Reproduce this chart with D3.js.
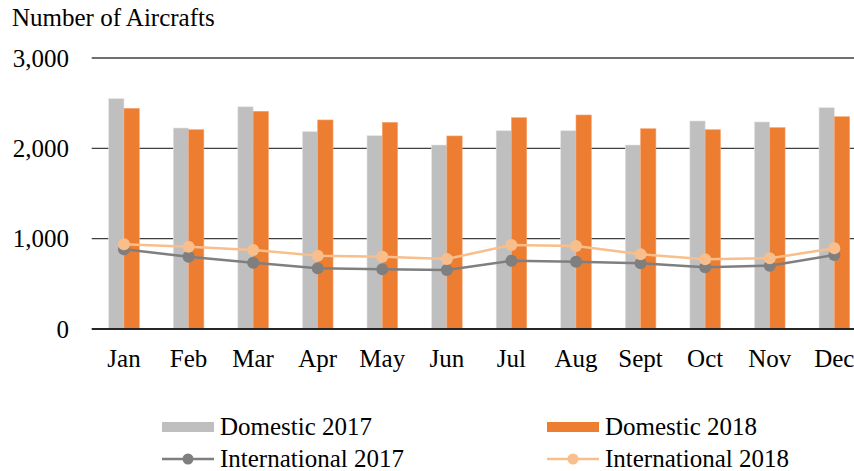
<!DOCTYPE html>
<meta charset="utf-8">
<html>
<head>
<style>
  body { margin: 0; background: #fff; }
  svg { display: block; font-family: "Liberation Serif", serif; }
</style>
</head>
<body>
<div id="chartContainer"></div>
<script src="https://cdn.jsdelivr.net/npm/d3@7"></script>
<script type="text/javascript">
  var months = ["Jan", "Feb", "Mar", "Apr", "May", "Jun", "Jul", "Aug", "Sept", "Oct", "Nov", "Dec"];
  var domestic2017 = [2550, 2225, 2460, 2185, 2140, 2037, 2195, 2195, 2037, 2303, 2292, 2450];
  var domestic2018 = [2443, 2206, 2410, 2314, 2288, 2137, 2339, 2369, 2217, 2206, 2229, 2350];
  var international2017 = [882, 800, 734, 672, 661, 653, 756, 745, 727, 683, 701, 819];
  var international2018 = [937, 911, 875, 812, 800, 775, 930, 919, 827, 772, 783, 893];
  var yTicks = [0, 1000, 2000, 3000];

  var width = 854, height = 471;
  var svg = d3.select("#chartContainer").append("svg")
    .attr("width", width)
    .attr("height", height);

  // plot area runs past the right edge, like the cropped original
  var x0 = d3.scaleBand()
    .domain(months)
    .range([91.7, 866.6])
    .paddingInner(0.526)
    .paddingOuter(0.263);
  var x1 = d3.scaleBand()
    .domain(["d17", "d18"])
    .range([0, x0.bandwidth()]);
  var y = d3.scaleLinear()
    .domain([0, 3000])
    .range([329, 58]);

  // title
  svg.append("text")
    .attr("x", 12)
    .attr("y", 26)
    .style("font-size", "25px")
    .style("fill", "#000")
    .text("Number of Aircrafts");

  // gridlines
  svg.selectAll(".grid")
    .data(yTicks.filter(function (d) { return d > 0; }))
    .enter()
    .append("line")
    .attr("x1", 91.7)
    .attr("x2", width)
    .attr("y1", function (d) { return y(d); })
    .attr("y2", function (d) { return y(d); })
    .style("stroke", "#404040")
    .style("stroke-width", 1.3);

  // y tick labels
  svg.selectAll(".ytick")
    .data(yTicks)
    .enter()
    .append("text")
    .attr("x", 69)
    .attr("y", function (d) { return y(d); })
    .attr("dy", "0.35em")
    .attr("text-anchor", "end")
    .style("font-size", "25px")
    .text(function (d) { return d3.format(",")(d); });

  // bars
  var groups = svg.selectAll(".month")
    .data(months)
    .enter()
    .append("g")
    .attr("transform", function (d) { return "translate(" + x0(d) + ",0)"; });

  groups.append("rect")
    .attr("x", x1("d17"))
    .attr("width", x1.bandwidth())
    .attr("y", function (d, i) { return y(domestic2017[i]); })
    .attr("height", function (d, i) { return y(0) - y(domestic2017[i]); })
    .style("fill", "#BFBFBF")
    .style("stroke", "#e4e4e4")
    .style("stroke-width", 0.6);

  groups.append("rect")
    .attr("x", x1("d18"))
    .attr("width", x1.bandwidth())
    .attr("y", function (d, i) { return y(domestic2018[i]); })
    .attr("height", function (d, i) { return y(0) - y(domestic2018[i]); })
    .style("fill", "#ED7D31")
    .style("stroke", "#f4a470")
    .style("stroke-width", 0.6);

  // baseline
  svg.append("line")
    .attr("x1", 91.7)
    .attr("x2", width)
    .attr("y1", y(0))
    .attr("y2", y(0))
    .style("stroke", "#262626")
    .style("stroke-width", 2);

  // x labels
  svg.selectAll(".xtick")
    .data(months)
    .enter()
    .append("text")
    .attr("x", function (d) { return x0(d) + x0.bandwidth() / 2; })
    .attr("y", 367)
    .attr("text-anchor", "middle")
    .style("font-size", "25px")
    .text(function (d) { return d; });

  // lines
  var cx = function (d, i) { return x0(months[i]) + x0.bandwidth() / 2; };
  var lineGen = d3.line()
    .x(cx)
    .y(function (d) { return y(d); });

  var lineSeries = [
    { values: international2017, color: "#7F7F7F" },
    { values: international2018, color: "#F8BE8C" }
  ];

  lineSeries.forEach(function (s) {
    svg.append("path")
      .datum(s.values)
      .attr("d", lineGen)
      .style("fill", "none")
      .style("stroke", s.color)
      .style("stroke-width", 2.5);
    svg.selectAll(null)
      .data(s.values)
      .enter()
      .append("circle")
      .attr("cx", cx)
      .attr("cy", function (d) { return y(d); })
      .attr("r", 6)
      .style("fill", s.color);
  });

  // legend
  var legend = [
    { label: "Domestic 2017", type: "bar", color: "#BFBFBF", x: 162, y: 427 },
    { label: "Domestic 2018", type: "bar", color: "#ED7D31", x: 547, y: 427 },
    { label: "International 2017", type: "line", color: "#7F7F7F", x: 162, y: 459 },
    { label: "International 2018", type: "line", color: "#F8BE8C", x: 547, y: 459 }
  ];

  legend.forEach(function (l) {
    if (l.type === "bar") {
      svg.append("rect")
        .attr("x", l.x)
        .attr("y", l.y - 5)
        .attr("width", 52)
        .attr("height", 10)
        .style("fill", l.color);
    } else {
      svg.append("line")
        .attr("x1", l.x)
        .attr("x2", l.x + 52)
        .attr("y1", l.y)
        .attr("y2", l.y)
        .style("stroke", l.color)
        .style("stroke-width", 2.5);
      svg.append("circle")
        .attr("cx", l.x + 26)
        .attr("cy", l.y)
        .attr("r", 5.5)
        .style("fill", l.color);
    }
    svg.append("text")
      .attr("x", l.x + 58)
      .attr("y", l.y + 8)
      .style("font-size", "25px")
      .text(l.label);
  });
</script>
</body>
</html>
